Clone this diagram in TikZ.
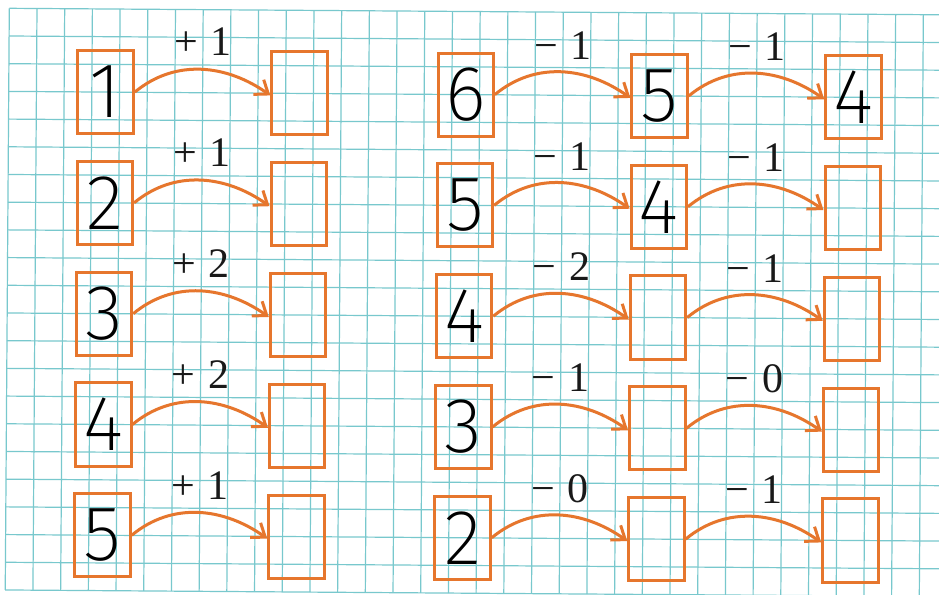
\documentclass[tikz,border=0pt]{standalone}
\usepackage{fontspec}
\usetikzlibrary{arrows.meta}
\IfFontExistsTF{Fira Sans ExtraLight}{\newfontfamily\digitfont{Fira Sans ExtraLight}}{%
  \IfFontExistsTF{Fira Sans Light}{\newfontfamily\digitfont{Fira Sans Light}}{\newfontfamily\digitfont{DejaVu Sans}}}
\newfontfamily\labfont{Liberation Serif}
\definecolor{boxor}{RGB}{230,118,45}
\definecolor{gridc}{RGB}{120,200,205}
\tikzset{
  gridline/.style={draw=gridc, line width=1.2pt},
  numbox/.style={draw=boxor, line width=3pt, minimum width=55.4pt, minimum height=83.1pt,
    inner sep=0pt, text=black, font=\digitfont\fontsize{78}{78}\selectfont},
  lab/.style={anchor=base, inner sep=0pt, text=black!90, font=\labfont\fontsize{42}{42}\selectfont},
  arr/.style={draw=boxor, line width=3pt, -{Straight Barb[length=12pt,width=18pt]}},
}
\begin{document}
\begin{tikzpicture}[x=1pt,y=-1pt]
\fill[white] (0,0) rectangle (939,594);
\useasboundingbox (0,0) rectangle (939,594);
\clip (0,0) rectangle (939,594);
\begin{scope}[shift={(9.3,8.3)}, rotate=-0.4, x=27.7pt, y=-27.7pt]
  % grid
  \foreach \i in {0,...,34} \draw[gridline] (\i,0) -- (\i,21);
  \foreach \j in {0,...,21} \draw[gridline] (0,\j) -- (34.5,\j);
  % left column
  \foreach \k/\a/\s/\n in {1/1/+/1, 2/2/+/1, 3/3/+/2, 4/4/+/2, 5/5/+/1}{
    \pgfmathsetmacro{\yc}{3+4*(\k-1)}
    \node[numbox] (La\k) at (3.5,\yc) {\a};
    \node[numbox] (Lb\k) at (10.5,\yc) {};
    \node[lab] (Ll\k) at (7,\yc-1.33) {\s\hspace{0.3em}\n};
    \draw[arr] (La\k.east) to[out=40,in=145] ([yshift=-2pt]Lb\k.west);
  }
  % right part
  \foreach \k/\a/\b/\c/\na/\nb in {1/6/5/4/1/1, 2/5/4//1/1, 3/4///2/1, 4/3///1/0, 5/2///0/1}{
    \pgfmathsetmacro{\yc}{3+4*(\k-1)}
    \node[numbox] (Ra\k) at (16.5,\yc) {\a};
    \node[numbox] (Rb\k) at (23.5,\yc) {\b};
    \node[numbox] (Rc\k) at (30.5,\yc) {\c};
    \node[lab] (Rl\k) at (20,\yc-1.3) {−\hspace{0.3em}\na};
    \node[lab] (Rm\k) at (27,\yc-1.3) {−\hspace{0.3em}\nb};
    \draw[arr] (Ra\k.east) to[out=40,in=145] ([yshift=-2pt]Rb\k.west);
    \draw[arr] (Rb\k.east) to[out=40,in=145] ([yshift=-2pt]Rc\k.west);
  }
\end{scope}
\end{tikzpicture}
\end{document}
